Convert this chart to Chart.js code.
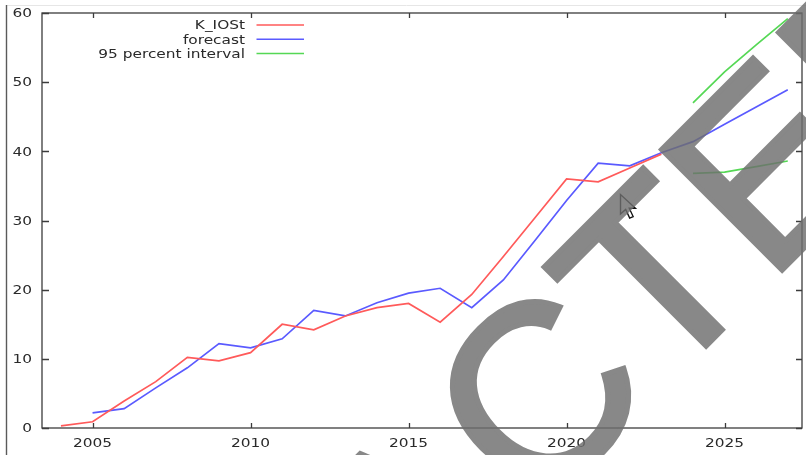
<!DOCTYPE html>
<html>
<head>
<meta charset="utf-8">
<title>K_IOSt forecast</title>
<script src="https://cdn.jsdelivr.net/npm/chart.js@4/dist/chart.umd.min.js"></script>
<style>
  html, body { margin: 0; padding: 0; background: #ffffff; }
  #wrap { position: relative; width: 806px; height: 455px; }
</style>
</head>
<body>
<div id="wrap"><canvas id="chart" width="806" height="455"></canvas></div>
<script>
// Observed series
const obsYears = [2004, 2005, 2006, 2007, 2008, 2009, 2010, 2011, 2012, 2013,
                  2014, 2015, 2016, 2017, 2018, 2019, 2020, 2021, 2022, 2023];
const obsValues = [0.3, 0.9, 3.9, 6.7, 10.2, 9.7, 10.9, 15.0, 14.2, 16.2,
                   17.4, 18.0, 15.3, 19.3, 24.8, 30.4, 36.0, 35.6, 37.6, 39.6];

// Fitted values and forecast
const fcYears = [2005, 2006, 2007, 2008, 2009, 2010, 2011, 2012, 2013, 2014, 2015, 2016,
                 2017, 2018, 2019, 2020, 2021, 2022, 2023, 2024, 2025, 2026, 2027];
const fcValues = [2.2, 2.8, 5.8, 8.7, 12.2, 11.6, 12.9, 17.0, 16.2, 18.1, 19.5, 20.2,
                  17.4, 21.4, 27.1, 32.9, 38.3, 37.9, 39.8, 41.4, 43.9, 46.4, 48.9];

// 95 percent interval bounds
const ciYears = [2024, 2025, 2026, 2027];
const ciUpper = [47.0, 51.5, 55.4, 59.2];
const ciLower = [36.8, 37.0, 37.8, 38.6];

// Axis ticks and legend entries
const xTicks = [2005, 2010, 2015, 2020, 2025];
const yTicks = [0, 10, 20, 30, 40, 50, 60];
const legendLabels = ['K_IOSt', 'forecast', '95 percent interval'];
const seriesColors = ['#ff5a5a', '#5a5aff', '#55d855'];

const toPoints = (xs, ys) => xs.map((x, i) => ({ x: x, y: ys[i] }));

const TEXT_STRETCH = 1.28;
const TEXT_FONT = '12px "DejaVu Sans"';
const TEXT_COLOR = '#2a2a2a';

function stretchedText(ctx, str, x, y, align) {
  ctx.save();
  ctx.translate(x, y);
  ctx.scale(TEXT_STRETCH, 1);
  ctx.textAlign = align;
  ctx.textBaseline = 'alphabetic';
  ctx.fillText(str, 0, 0);
  ctx.restore();
}

// Border, inward ticks on all four sides, and tick labels
const framePlugin = {
  id: 'frame',
  beforeDatasetsDraw(chart) {
    const { ctx, chartArea: a, scales } = chart;
    const xs = scales.x, ys = scales.y;
    ctx.save();
    // outer page edges
    ctx.strokeStyle = '#e6e6e6';
    ctx.lineWidth = 1;
    ctx.beginPath(); ctx.moveTo(7, 5.5); ctx.lineTo(806, 5.5); ctx.stroke();
    ctx.strokeStyle = '#5a5a5a';
    ctx.lineWidth = 1.4;
    ctx.beginPath(); ctx.moveTo(6.5, 5); ctx.lineTo(6.5, 455); ctx.stroke();

    ctx.strokeStyle = '#3c3c3c';
    ctx.lineWidth = 1.3;
    ctx.strokeRect(a.left, a.top, a.right - a.left, a.bottom - a.top);

    ctx.beginPath();
    xTicks.forEach(v => {
      const px = Math.round(xs.getPixelForValue(v)) + 0.5;
      ctx.moveTo(px, a.bottom); ctx.lineTo(px, a.bottom - 5);
      ctx.moveTo(px, a.top); ctx.lineTo(px, a.top + 5);
    });
    yTicks.forEach(v => {
      const py = Math.round(ys.getPixelForValue(v)) + 0.5;
      ctx.moveTo(a.left, py); ctx.lineTo(a.left + 7, py);
      ctx.moveTo(a.right, py); ctx.lineTo(a.right - 6, py);
    });
    ctx.stroke();

    ctx.fillStyle = TEXT_COLOR;
    ctx.font = TEXT_FONT;
    xTicks.forEach(v => {
      stretchedText(ctx, String(v), xs.getPixelForValue(v), a.bottom + 19, 'center');
    });
    yTicks.forEach(v => {
      stretchedText(ctx, String(v), 32, ys.getPixelForValue(v) + 4.3, 'right');
    });
    ctx.restore();
  },
  afterDatasetsDraw(chart) {
    const { ctx } = chart;
    ctx.save();
    ctx.font = TEXT_FONT;
    const rows = [25, 39.3, 53.5];
    legendLabels.forEach((lbl, i) => {
      ctx.fillStyle = TEXT_COLOR;
      stretchedText(ctx, lbl, 245, rows[i] + 4.2, 'right');
      ctx.strokeStyle = seriesColors[i];
      ctx.lineWidth = 1.6;
      ctx.beginPath();
      ctx.moveTo(256.5, rows[i]); ctx.lineTo(304, rows[i]);
      ctx.stroke();
    });
    ctx.restore();
  },
  afterDraw(chart) {
    const { ctx } = chart;
    ctx.save();
    // pointer
    ctx.translate(620.5, 194.5);
    ctx.scale(1.15, 1.15);
    ctx.beginPath();
    ctx.moveTo(0, 0); ctx.lineTo(0, 17); ctx.lineTo(4.5, 13); ctx.lineTo(8, 20.5);
    ctx.lineTo(11, 19.2); ctx.lineTo(7.6, 12); ctx.lineTo(13, 12); ctx.closePath();
    ctx.fillStyle = '#ffffff';
    ctx.fill();
    ctx.strokeStyle = '#111111';
    ctx.lineWidth = 1.2;
    ctx.stroke();
    ctx.restore();

    // stamp: opaque lettering on a layer, then blended over the plot
    const layer = document.createElement('canvas');
    layer.width = chart.width;
    layer.height = chart.height;
    const lc = layer.getContext('2d');
    lc.translate(534.0, 518.2);
    lc.rotate(-Math.PI / 4);
    lc.font = '248px "Liberation Sans"';
    lc.textBaseline = 'alphabetic';
    lc.fillStyle = 'rgb(110,110,110)';
    lc.strokeStyle = 'rgb(110,110,110)';
    lc.lineWidth = 5;
    lc.lineJoin = 'miter';
    lc.textAlign = 'right';
    lc.fillText('REDA', -8, 2);
    lc.strokeText('REDA', -8, 2);
    lc.textAlign = 'left';
    lc.fillText('CTED', 0, 0);
    lc.strokeText('CTED', 0, 0);
    ctx.save();
    ctx.globalAlpha = 0.82;
    ctx.drawImage(layer, 0, 0);
    ctx.restore();
  }
};

const lineStyle = (color) => ({
  borderColor: color,
  backgroundColor: color,
  borderWidth: 1.7,
  pointRadius: 0,
  tension: 0,
  fill: false
});

new Chart(document.getElementById('chart'), {
  type: 'line',
  data: {
    datasets: [
      Object.assign({ label: legendLabels[0], data: toPoints(obsYears, obsValues) }, lineStyle(seriesColors[0])),
      Object.assign({ label: legendLabels[1], data: toPoints(fcYears, fcValues) }, lineStyle(seriesColors[1])),
      Object.assign({ label: legendLabels[2], data: toPoints(ciYears, ciUpper) }, lineStyle(seriesColors[2])),
      Object.assign({ label: legendLabels[2] + ' (lower)', data: toPoints(ciYears, ciLower) }, lineStyle(seriesColors[2]))
    ]
  },
  options: {
    responsive: false,
    devicePixelRatio: 1,
    animation: false,
    layout: { padding: { left: 42, top: 13, right: 4, bottom: 27 } },
    plugins: { legend: { display: false }, tooltip: { enabled: false } },
    scales: {
      x: { type: 'linear', min: 2003.4, max: 2027.45, display: false },
      y: { type: 'linear', min: 0, max: 60, display: false }
    }
  },
  plugins: [framePlugin]
});
</script>
</body>
</html>
